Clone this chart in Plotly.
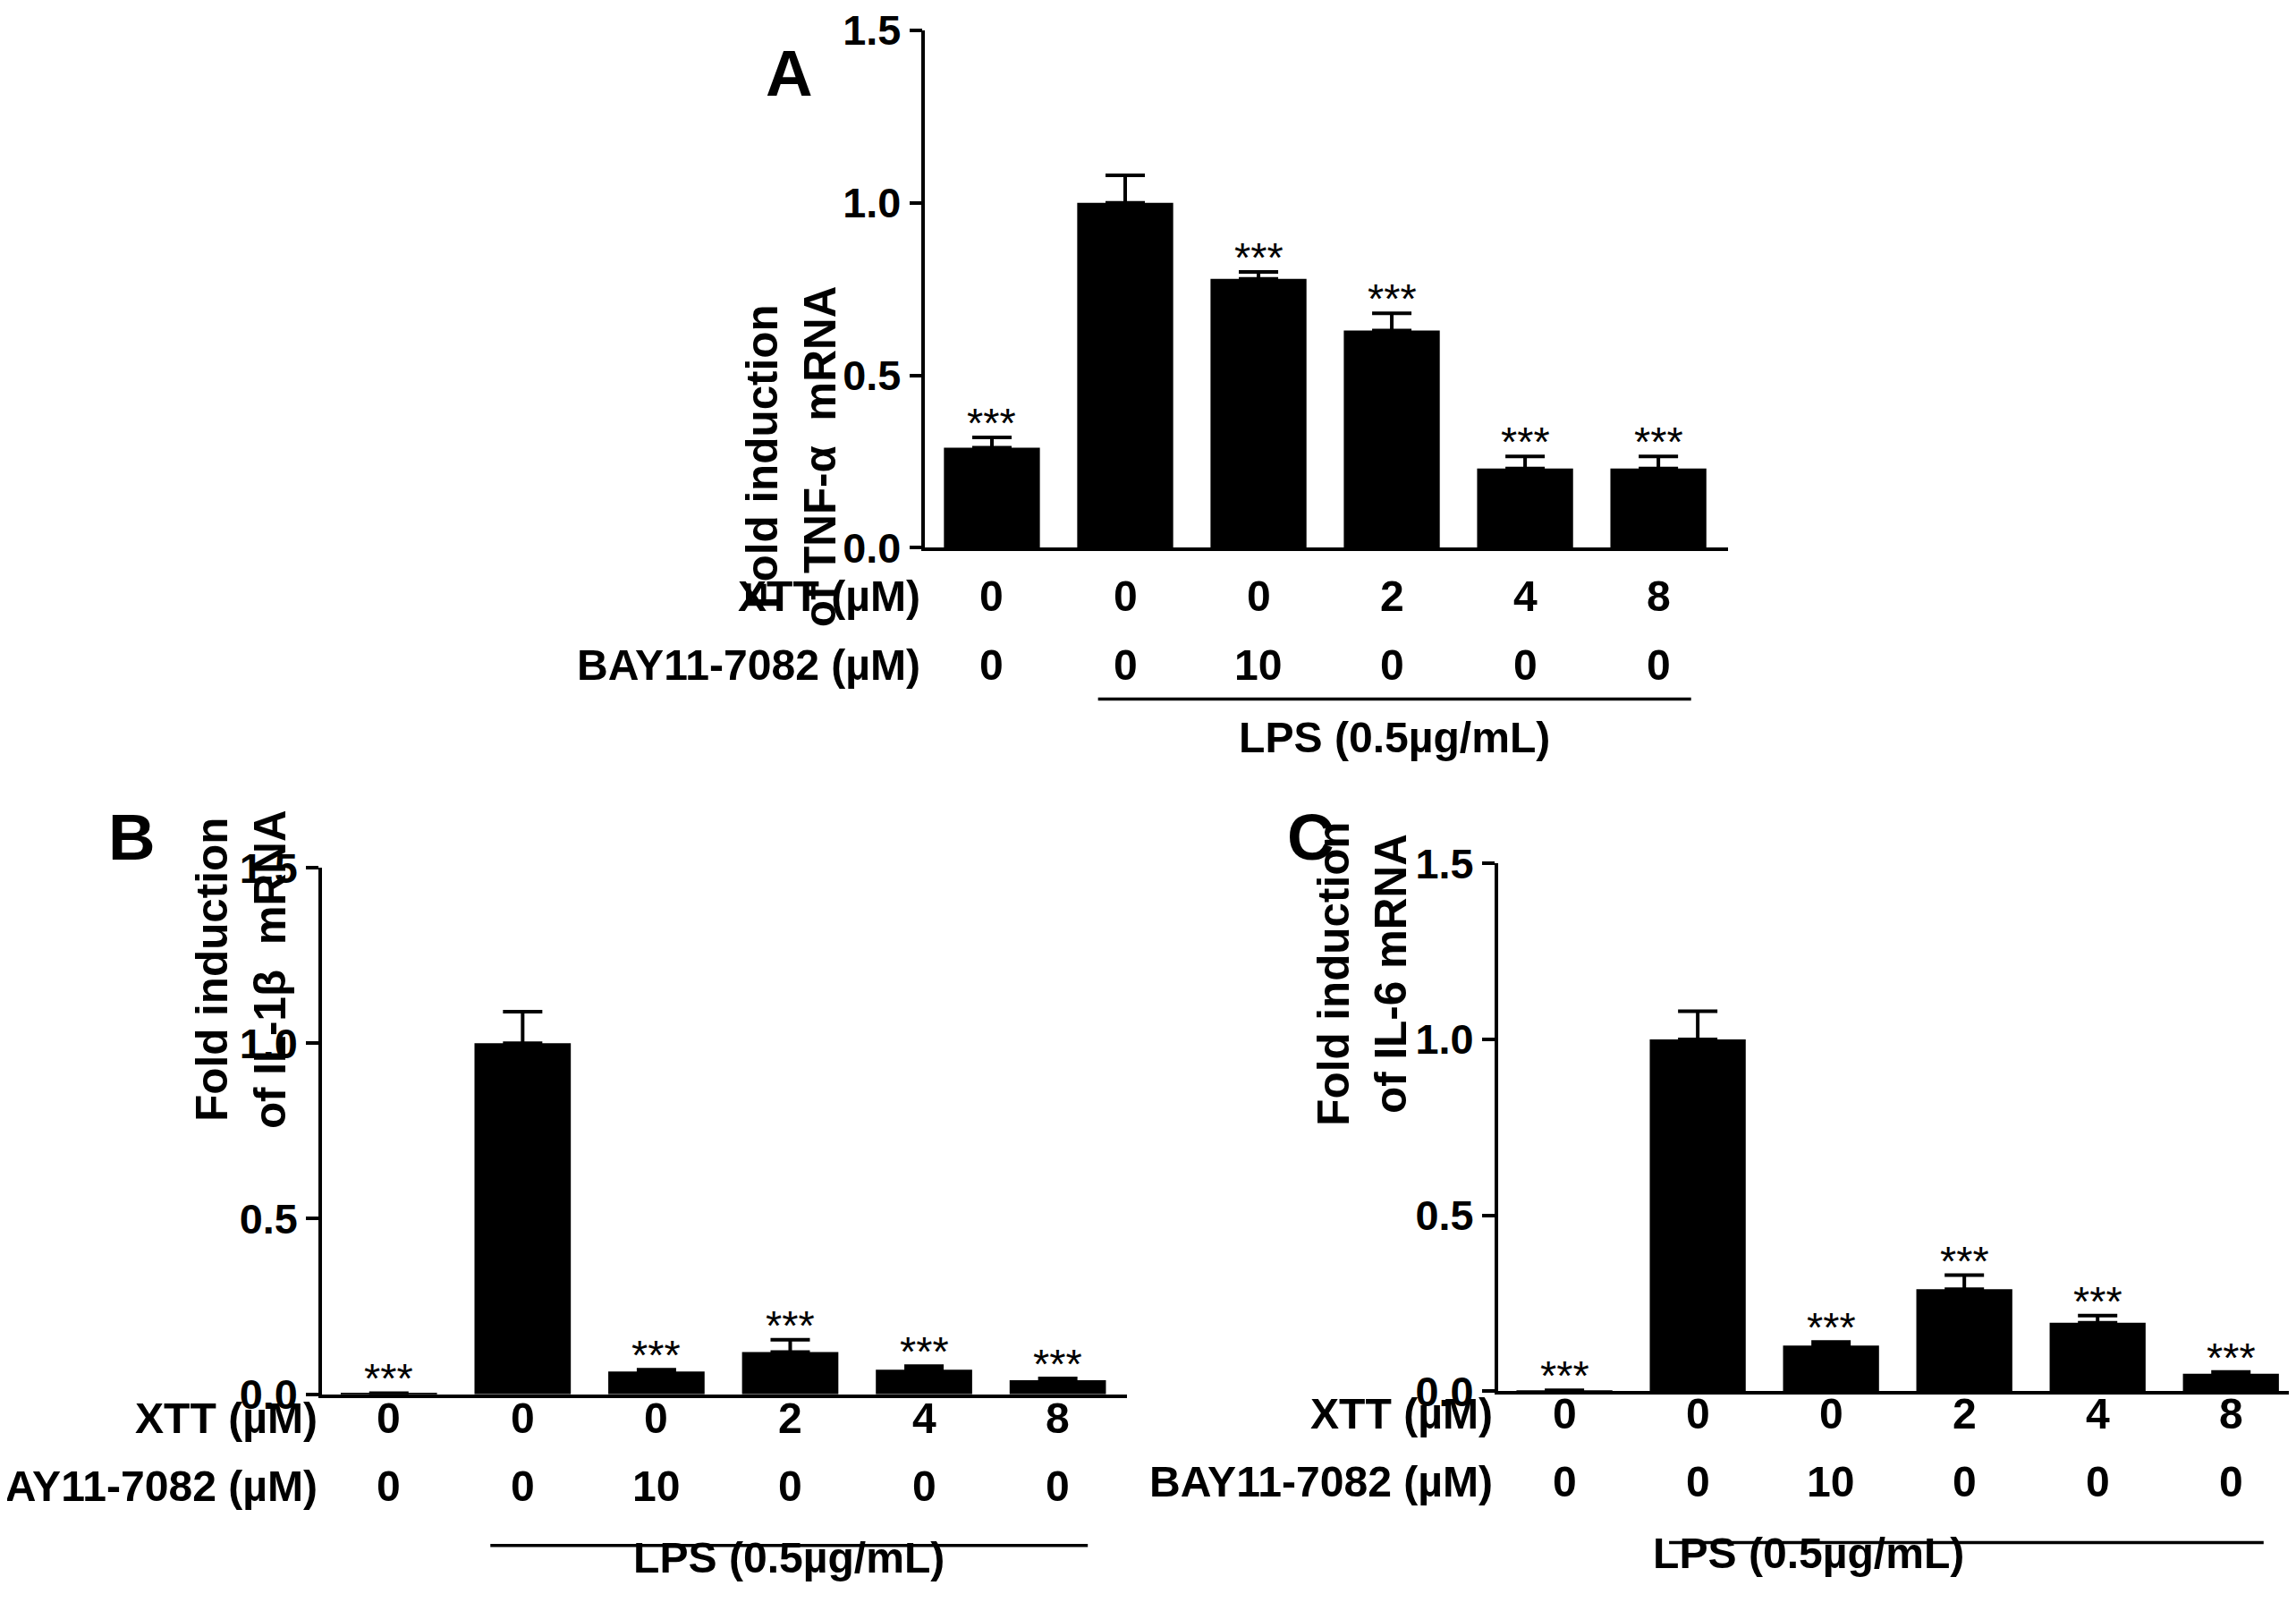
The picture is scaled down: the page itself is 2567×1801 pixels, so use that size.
import plotly.graph_objects as go

W, H = 2567, 1801
DW, DH = 1568.0, 1100.0  # reference measured in these units

groups = ["0", "1", "2", "3", "4", "5"]
xtt = ["0", "0", "0", "2", "4", "8"]
bay = ["0", "0", "10", "0", "0", "0"]

tnf_mean = [0.29, 1.00, 0.78, 0.63, 0.23, 0.23]
tnf_err = [0.03, 0.08, 0.02, 0.05, 0.035, 0.035]
il1b_mean = [0.003, 1.00, 0.065, 0.12, 0.07, 0.04]
il1b_err = [0.0, 0.09, 0.005, 0.035, 0.01, 0.005]
il6_mean = [0.003, 1.00, 0.13, 0.29, 0.195, 0.05]
il6_err = [0.0, 0.08, 0.01, 0.04, 0.02, 0.005]
stars = ["***", "", "***", "***", "***", "***"]

FONT = "Liberation Sans, Arial, sans-serif"
F = 1.3  # font scale

def px(x):
    return x / DW

def py(y):
    v = 1 - ((y - 17.2) / 0.978) / DH
    return min(1.0, max(0.0, v))

# panel geometry in reference units: x0, x1, ytop(1.5), ybottom(0)
panels = [
    dict(name="A", mean=tnf_mean, err=tnf_err, box=(627, 1175, 10, 373),
         title="Fold induction<br>of TNF-α  mRNA", title_x=535, letter=(517, 20),
         rows=(406, 453), line=(745, 1150, 477), lps=503),
    dict(name="B", mean=il1b_mean, err=il1b_err, box=(215, 765, 593, 955),
         title="Fold induction<br>of IL-1β  mRNA", title_x=122, letter=(68, 572),
         rows=(989, 1036), line=(330, 738, 1059), lps=1085),
    dict(name="C", mean=il6_mean, err=il6_err, box=(1018, 1566, 590, 953),
         title="Fold induction<br>of IL-6 mRNA", title_x=925, letter=(890, 572),
         rows=(986, 1033), line=(1135, 1541, 1057), lps=1082),
]

fig = go.Figure()
ann = []
shapes = []
for i, p in enumerate(panels):
    k = "" if i == 0 else str(i + 1)
    x0, x1, yt, yb = p["box"]
    fig.add_trace(go.Bar(
        x=list(range(6)), y=p["mean"], width=0.72,
        marker=dict(color="black", line=dict(width=0)),
        error_y=dict(type="data", array=p["err"], arrayminus=[0] * 6,
                     color="black", thickness=4, width=22),
        xaxis="x" + k, yaxis="y" + k, showlegend=False))
    fig.layout["xaxis" + k] = dict(
        domain=[px(x0), px(x1)], anchor="y" + k, range=[-0.5, 5.52],
        showline=True, linecolor="black", linewidth=3.5, ticks="",
        showticklabels=False, showgrid=False, zeroline=False)
    fig.layout["yaxis" + k] = dict(
        domain=[py(yb), py(yt)], anchor="x" + k, range=[0, 1.5],
        tickvals=[0, 0.5, 1.0, 1.5],
        ticktext=["<b>0.0</b>", "<b>0.5</b>", "<b>1.0</b>", "<b>1.5</b>"],
        ticks="outside", ticklen=14, tickwidth=3.5, tickcolor="black",
        showline=True, linecolor="black", linewidth=3.5, showgrid=False,
        zeroline=False, tickfont=dict(size=36 * F, family=FONT, color="black"))
    for j in range(6):
        if stars[j]:
            ann.append(dict(x=j, y=p["mean"][j] + p["err"][j], xref="x" + k,
                            yref="y" + k, text=stars[j], showarrow=False,
                            yanchor="bottom", yshift=-12,
                            font=dict(size=36 * F, family=FONT, color="black")))
        ann.append(dict(x=j, y=py(p["rows"][0]), xref="x" + k, yref="paper",
                        text="<b>%s</b>" % xtt[j], showarrow=False,
                        font=dict(size=37 * F, family=FONT, color="black")))
        ann.append(dict(x=j, y=py(p["rows"][1]), xref="x" + k, yref="paper",
                        text="<b>%s</b>" % bay[j], showarrow=False,
                        font=dict(size=37 * F, family=FONT, color="black")))
    ann.append(dict(x=px(x0 - 2), y=py(p["rows"][0]), xref="paper", yref="paper",
                    text="<b>XTT (µM)</b>", showarrow=False, xanchor="right",
                    font=dict(size=37 * F, family=FONT, color="black")))
    ann.append(dict(x=px(x0 - 2), y=py(p["rows"][1]), xref="paper", yref="paper",
                    text="<b>BAY11-7082 (µM)</b>", showarrow=False, xanchor="right",
                    font=dict(size=37 * F, family=FONT, color="black")))
    lx0, lx1, ly = p["line"]
    shapes.append(dict(type="line", xref="paper", yref="paper", x0=px(lx0),
                       x1=px(lx1), y0=py(ly), y1=py(ly),
                       line=dict(color="black", width=3.5)))
    ann.append(dict(x=px((lx0 + lx1) / 2), y=py(p["lps"]), xref="paper",
                    yref="paper", text="<b>LPS (0.5µg/mL)</b>", showarrow=False,
                    font=dict(size=37 * F, family=FONT, color="black")))
    ann.append(dict(x=px(p["title_x"]), y=py((yt + yb) / 2), xref="paper",
                    yref="paper", text="<b>%s</b>" % p["title"], showarrow=False,
                    textangle=-90, font=dict(size=38 * F, family=FONT, color="black")))
    ann.append(dict(x=px(p["letter"][0]), y=py(p["letter"][1]), xref="paper",
                    yref="paper", text="<b>%s</b>" % p["name"], showarrow=False,
                    font=dict(size=56 * F, family=FONT, color="black")))

fig.update_layout(width=W, height=H, margin=dict(l=0, r=0, t=0, b=0),
                  plot_bgcolor="white", paper_bgcolor="white",
                  annotations=ann, shapes=shapes, bargap=0.28)
fig.write_html("out.html")
